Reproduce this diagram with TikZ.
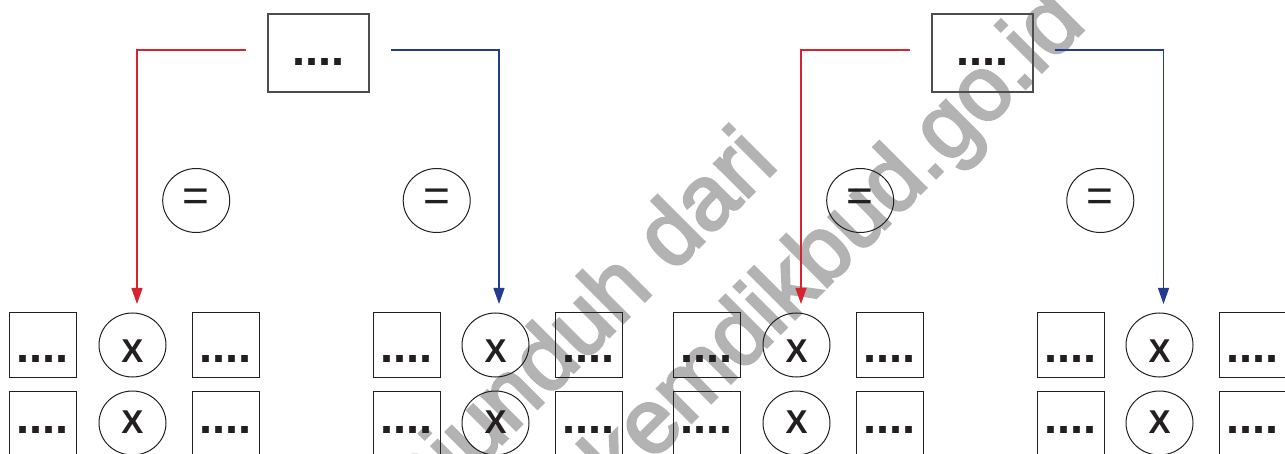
\documentclass[tikz,border=0pt]{standalone}
\usepackage{fontspec}
\setmainfont{Liberation Sans}
\newfontfamily\wmfont[FakeBold=3]{Liberation Sans}
\usetikzlibrary{arrows.meta,shapes.geometric}
\definecolor{ink}{HTML}{231F20}
\definecolor{topgray}{HTML}{4D4D4D}
\definecolor{lnred}{HTML}{D7232E}
\definecolor{lnblue}{HTML}{243C8F}
\definecolor{wmgray}{HTML}{B3B3B3}
\begin{document}
\begin{tikzpicture}[x=1pt,y=-1pt,
 dotbox/.style={draw=ink,line width=1pt,rectangle,minimum width=67pt,minimum height=64pt,inner sep=0pt,text=ink,font=\bfseries\fontsize{47}{47}\selectfont,text depth=0pt},
 opcirc/.style={draw=ink,line width=1pt,ellipse,minimum width=67pt,minimum height=64pt,inner sep=0pt,text=ink,font=\bfseries\fontsize{33}{33}\selectfont,text depth=0pt},
 rowone/.style={text height=34pt},
 rowtwo/.style={text height=20.6pt},
 topbox/.style={draw=topgray,line width=1.5pt,rectangle,minimum width=101pt,minimum height=78pt,inner sep=0pt,text=ink,font=\bfseries\fontsize{47}{47}\selectfont,text height=25.4pt,text depth=0pt},
 eqcirc/.style={draw=ink,line width=1pt,ellipse,minimum width=67pt,minimum height=64pt,inner sep=0pt,text=ink,font=\fontsize{46}{46}\selectfont},
 redline/.style={draw=lnred,line width=1.2pt,-{Triangle[width=11pt,length=16pt]}},
 blueline/.style={draw=lnblue,line width=1.2pt,-{Triangle[width=11pt,length=16pt]}},
 wm/.style={text=wmgray,font=\wmfont\fontsize{91}{91}\selectfont,inner sep=0pt,rotate=45,anchor=base west}
]
\useasboundingbox (0,0) rectangle (1285,454);
% watermark
\node[wm] (wma) at (415,531) {Diunduh dari};
\node[wm] (wmb) at (619,495) {kemdikbud.go.id};
% top boxes
\node[topbox] (topa) at (318.5,53) {....};
\node[topbox] (topb) at (982.5,53) {....};
% equal circles
\node[eqcirc] (eqa) at (196.2,200.5) {=};
\node[eqcirc] (eqb) at (436.7,200.5) {=};
\node[eqcirc] (eqc) at (860.2,200.5) {=};
\node[eqcirc] (eqd) at (1100.3,200.5) {=};
% row one
\node[dotbox,rowone] (ba1) at (42.5,345) {....};
\node[opcirc,rowone] (xa1) at (132.5,345) {X};
\node[dotbox,rowone] (ca1) at (225.5,345) {....};
\node[dotbox,rowone] (bb1) at (406.5,345) {....};
\node[opcirc,rowone] (xb1) at (495.5,345) {X};
\node[dotbox,rowone] (cb1) at (588.5,345) {....};
\node[dotbox,rowone] (bc1) at (706.5,345) {....};
\node[opcirc,rowone] (xc1) at (796.5,345) {X};
\node[dotbox,rowone] (cc1) at (889.5,345) {....};
\node[dotbox,rowone] (bd1) at (1070.5,345) {....};
\node[opcirc,rowone] (xd1) at (1159.5,345) {X};
\node[dotbox,rowone] (cd1) at (1252.5,345) {....};
% row two
\node[dotbox,rowtwo] (ba2) at (42.5,423) {....};
\node[opcirc,rowtwo] (xa2) at (132.5,423) {X};
\node[dotbox,rowtwo] (ca2) at (225.5,423) {....};
\node[dotbox,rowtwo] (bb2) at (406.5,423) {....};
\node[opcirc,rowtwo] (xb2) at (495.5,423) {X};
\node[dotbox,rowtwo] (cb2) at (588.5,423) {....};
\node[dotbox,rowtwo] (bc2) at (706.5,423) {....};
\node[opcirc,rowtwo] (xc2) at (796.5,423) {X};
\node[dotbox,rowtwo] (cc2) at (889.5,423) {....};
\node[dotbox,rowtwo] (bd2) at (1070.5,423) {....};
\node[opcirc,rowtwo] (xd2) at (1159.5,423) {X};
\node[dotbox,rowtwo] (cd2) at (1252.5,423) {....};
% connectors
\draw[redline,shorten >=8.5pt] ([xshift=-21pt,yshift=3pt]topa.west) -| ([xshift=4.5pt]xa1.north);
\draw[blueline,shorten >=8.5pt] ([xshift=21pt,yshift=3pt]topa.east) -| ([xshift=3.5pt]xb1.north);
\draw[redline,shorten >=8.5pt] ([xshift=-21pt,yshift=3pt]topb.west) -| ([xshift=4.5pt]xc1.north);
\draw[blueline,shorten >=8.5pt] ([xshift=21pt,yshift=3pt]topb.east) -| ([xshift=4pt]xd1.north);
\end{tikzpicture}
\end{document}
